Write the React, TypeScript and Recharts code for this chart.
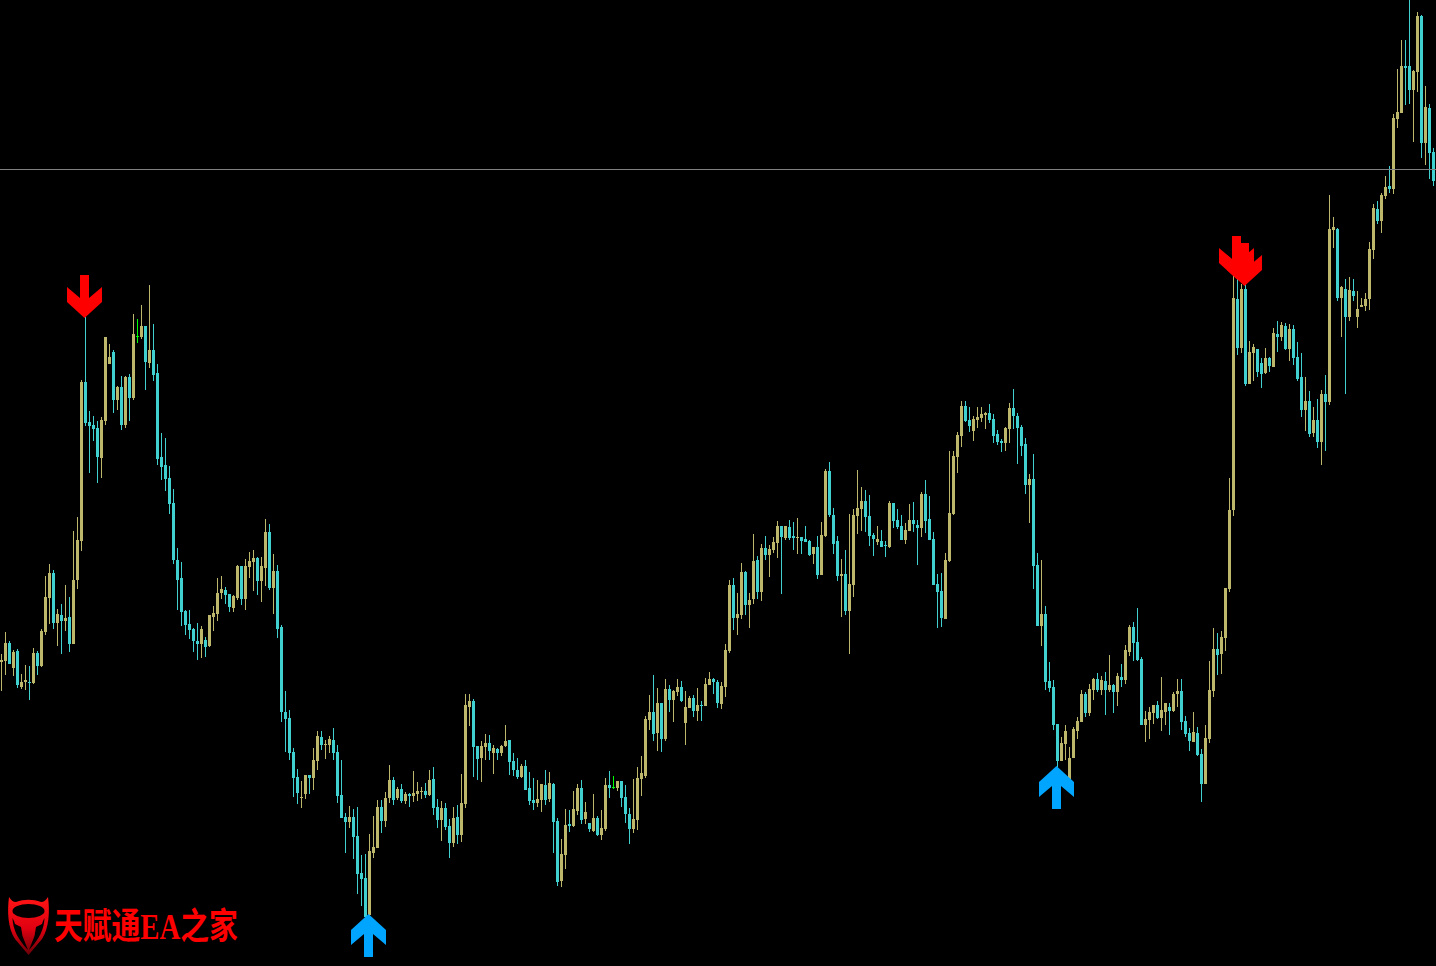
import { Bar, ComposedChart, ReferenceDot, ReferenceLine, XAxis, YAxis } from 'recharts'

const highs = [
  312,334,325,316,317,292,301,300,318,315,
  337,390,402,396,357,362,381,369,435,449,
  586,649,555,550,545,549,629,622,616,580,
  590,590,592,652,647,661,640,681,642,602,
  533,528,500,477,418,404,356,356,338,343,
  340,329,351,360,388,390,379,372,371,401,
  400,407,414,416,409,409,447,442,412,401,
  341,275,256,218,197,185,191,191,218,235,
  235,226,230,238,221,206,153,160,157,159,
  111,112,132,150,166,166,174,201,189,179,
  182,174,173,195,184,179,183,196,199,167,
  165,163,147,159,161,192,272,272,267,220,
  225,232,231,221,218,221,241,226,213,208,
  202,206,194,188,186,182,196,194,183,148,
  127,157,156,175,182,186,164,143,172,150,
  156,188,195,190,185,185,181,158,187,199,
  210,250,271,291,278,263,287,281,276,287,
  285,275,270,271,278,265,288,294,288,286,
  284,322,386,388,373,403,395,373,432,410,
  422,430,421,429,445,440,440,446,444,448,
  429,440,426,419,430,444,497,504,458,430,
  407,416,452,457,496,479,476,471,433,440,
  436,425,465,463,457,451,443,462,464,446,
  474,486,470,434,392,393,413,515,515,534,
  565,565,559,550,559,559,554,562,552,536,
  527,539,563,577,553,541,528,492,512,413,
  406,360,304,286,242,229,241,219,239,249,
  276,274,282,288,293,290,294,311,282,293,
  302,321,341,344,358,309,255,259,261,265,
  289,263,263,274,287,287,250,238,254,239,
  217,241,305,338,333,335,378,488,690,688,
  682,684,625,622,617,608,618,609,638,645,
  644,643,642,641,624,613,589,575,559,567,
  576,591,771,749,738,680,687,689,687,675,
  668,673,724,762,765,773,790,800,852,897,
  926,926,966,896,954,951,880,862,818,
]

const lows = [
  275,291,302,290,278,277,276,266,282,291,
  299,331,342,337,320,312,335,314,322,377,
  415,540,493,525,483,488,541,602,553,556,
  536,538,545,566,623,627,576,598,585,501,
  486,475,452,402,356,340,331,327,314,306,
  308,309,319,335,345,367,362,354,354,366,
  361,356,388,375,371,364,380,376,352,328,
  244,214,206,169,162,158,167,172,176,196,
  216,207,213,206,163,148,113,138,107,72,
  60,46,50,108,118,133,139,163,161,166,
  163,162,159,164,165,167,168,170,151,138,
  125,136,108,119,122,124,158,240,189,186,
  184,206,206,192,206,210,219,191,190,187,
  188,176,161,156,159,154,161,164,113,80,
  79,97,134,139,151,142,142,134,134,130,
  126,135,168,177,175,159,143,122,133,136,
  170,188,236,225,215,214,225,254,244,270,
  264,221,258,249,245,245,260,281,272,258,
  257,269,313,336,331,347,351,338,362,367,
  365,406,389,413,408,372,426,426,416,412,
  412,424,410,402,387,391,429,449,412,385,
  349,351,312,369,432,435,434,420,410,421,
  419,409,418,438,437,426,422,435,434,401,
  429,433,426,381,338,339,347,404,451,493,
  519,544,534,525,538,544,537,543,523,521,
  514,515,523,537,502,510,472,443,377,340,
  320,276,274,236,199,205,206,186,208,227,
  244,249,250,266,274,271,251,274,253,260,
  279,282,310,305,305,241,224,227,242,247,
  235,241,231,254,259,236,229,215,224,210,
  164,182,223,269,291,292,315,374,450,611,
  613,580,582,585,589,578,592,594,599,614,
  625,616,605,601,585,549,535,529,529,518,
  501,515,561,718,665,629,572,645,665,638,
  659,655,656,707,742,733,767,773,772,838,
  853,861,862,824,874,808,801,787,780,
]

const opens = [
  304,305,323,298,315,279,284,284,283,313,
  300,334,368,393,343,351,345,349,322,386,
  425,584,544,541,538,508,545,602,614,566,
  579,541,589,568,630,629,640,603,616,593,
  509,501,488,463,406,388,355,342,337,325,
  322,326,320,349,352,373,376,372,358,368,
  400,367,399,404,408,385,398,434,378,395,
  339,254,248,214,189,168,172,191,188,205,
  229,221,221,226,214,171,149,144,149,130,
  93,88,51,113,118,159,145,168,186,168,
  177,165,172,170,172,174,175,171,187,159,
  146,158,140,123,149,131,162,259,265,220,
  208,219,223,213,217,213,220,226,205,196,
  189,200,178,166,163,166,181,167,182,145,
  85,111,142,140,155,178,147,143,135,148,
  131,137,181,179,178,185,169,152,137,146,
  187,190,246,254,233,263,227,277,266,274,
  279,243,258,268,255,261,260,281,287,284,
  262,279,315,381,348,351,394,361,367,406,
  374,418,411,416,423,440,428,439,430,428,
  429,427,425,412,419,391,430,495,451,425,
  390,392,355,381,450,457,465,450,431,424,
  425,421,419,463,446,440,426,435,446,441,
  438,472,447,427,382,375,347,405,452,509,
  530,560,546,535,546,548,551,553,547,532,
  525,523,537,558,550,539,522,481,487,401,
  340,352,285,279,242,205,222,186,208,235,
  244,272,253,276,287,276,285,276,281,274,
  289,286,314,339,324,307,241,246,253,261,
  248,254,259,255,272,275,245,233,224,233,
  212,182,227,275,317,312,328,377,456,667,
  618,677,582,613,617,603,593,608,599,632,
  629,640,617,637,609,589,556,565,533,546,
  524,572,564,736,737,668,677,649,675,649,
  659,660,667,716,757,745,770,780,777,847,
  853,900,900,876,894,950,823,858,814,
]

const closes = [
  306,323,302,314,281,284,286,283,313,300,
  335,369,393,343,352,345,348,322,386,426,
  584,543,540,537,509,546,629,609,566,579,
  541,589,568,632,630,640,604,616,591,507,
  499,487,462,406,386,354,341,336,325,322,
  337,319,351,353,373,377,371,359,370,400,
  367,400,405,408,385,400,434,378,395,337,
  254,247,213,188,173,169,191,188,206,230,
  221,222,227,213,170,148,144,149,129,92,
  87,49,115,119,159,145,168,186,166,177,
  165,172,170,173,175,175,171,186,158,146,
  158,139,123,148,131,163,261,265,219,207,
  220,223,215,218,213,220,225,204,196,189,
  200,176,165,163,167,182,166,183,144,84,
  112,141,140,157,178,146,154,137,148,131,
  138,181,178,179,185,168,152,137,147,188,
  193,247,254,232,263,227,277,266,275,279,
  265,259,268,255,261,260,282,287,284,263,
  280,316,381,348,352,394,361,366,405,374,
  418,411,417,424,440,429,440,428,428,429,
  425,424,411,419,391,431,495,451,422,390,
  392,355,382,451,458,465,449,430,427,427,
  419,420,463,445,439,426,436,446,442,438,
  472,445,426,381,374,348,406,453,510,531,
  560,545,540,547,549,552,553,546,530,524,
  523,538,558,550,538,520,481,487,400,340,
  352,284,278,241,205,223,235,208,237,245,
  272,253,277,287,276,286,276,281,274,290,
  286,316,339,323,306,241,247,254,261,248,
  256,263,255,272,275,244,232,225,234,211,
  182,228,276,317,311,329,378,456,668,618,
  677,582,614,619,594,592,608,600,633,629,
  641,617,637,608,587,556,565,532,546,524,
  572,564,737,739,668,679,649,676,670,657,
  661,667,717,758,745,771,779,777,848,854,
  900,898,876,895,950,823,859,813,785,
]

// signal arrows: bar index and the price at the arrow's tip
const sellBars = [21, 309, 311]
const sellPrices = [648, 687, 680]
const buyBars = [92, 264]
const buyPrices = [52, 200]

const levelPrice = 796.5
const PRICE_DOMAIN: [number, number] = [0, 966]

const UP = '#BDB76B'
const DOWN = '#40D0D0'
const DOJI = '#00FF00'
const SELL = '#FF0000'
const BUY = '#00A5FF'

const candles = highs.map((high, i) => ({
  bar: i,
  high,
  low: lows[i],
  open: opens[i],
  close: closes[i],
}))

function Candle(props: any) {
  const { x, y, height, payload } = props
  const { high, low, open, close } = payload
  const color = close > open ? UP : close < open ? DOWN : DOJI
  const perUnit = high > low ? height / (high - low) : 0
  const left = Math.round(x)
  const bodyTop = Math.round(y + (high - Math.max(open, close)) * perUnit)
  const bodyH = Math.max(1, Math.round(Math.abs(open - close) * perUnit))
  return (
    <g shapeRendering="crispEdges">
      <rect x={left + 1} y={y} width={1} height={height} fill={color} />
      <rect x={left} y={bodyTop} width={3} height={bodyH} fill={color} />
    </g>
  )
}

const arrowPoints = (cx: number, cy: number, dir: number) =>
  [
    [-4.5, 43],
    [4.5, 43],
    [4.5, 20],
    [17.5, 31],
    [17.5, 16],
    [0, 0],
    [-17.5, 16],
    [-17.5, 31],
    [-4.5, 20],
  ]
    .map(([dx, dy]) => `${cx - 1.5 + dx},${cy + dir * dy}`)
    .join(' ')

const SellArrow = (props: any) => <polygon points={arrowPoints(props.cx, props.cy, -1)} fill={SELL} />
const BuyArrow = (props: any) => <polygon points={arrowPoints(props.cx, props.cy, 1)} fill={BUY} />

function Watermark() {
  return (
    <svg width={250} height={70} viewBox="0 890 250 70" style={{ position: 'absolute', left: 0, top: 890 }}>
      <defs>
        <linearGradient id="shield" x1="0" y1="0" x2="0" y2="1">
          <stop offset="0%" stopColor="#ff1515" />
          <stop offset="55%" stopColor="#e00010" />
          <stop offset="100%" stopColor="#6a0008" />
        </linearGradient>
      </defs>
      <path
        d="M9 897 C7 912 8 928 15 939 L28.5 955 L42 939 C49 928 50 912 48 897 C46 900 44 902 41 902 C33 899 24 899 16 902 C13 902 11 900 9 897 Z"
        fill="url(#shield)"
      />
      <ellipse cx={28.5} cy={911} rx={16} ry={7} fill="#000" />
      <path d="M12.5 918 C13 929 17 938 28 950 L22.5 936 L21 927 L15 924 L14 921 Z" fill="#000" />
      <path d="M44.5 918 C44 929 40 938 29 950 L34.5 936 L36 927 L42 924 L43 921 Z" fill="#000" />
      <text
        transform="translate(54,939) scale(0.8,1)"
        fill="#FF0000"
        fontSize={36}
        fontWeight="bold"
        fontFamily="'Liberation Serif', 'Noto Sans CJK SC', serif"
      >
        天赋通EA之家
      </text>
    </svg>
  )
}

export default function App() {
  return (
    <div style={{ position: 'absolute', left: 0, top: 0, width: 1436, height: 966, background: '#000', overflow: 'hidden' }}>
      <ComposedChart
        width={1436}
        height={966}
        data={candles}
        margin={{ top: 0, right: 0, bottom: 0, left: 0 }}
        barCategoryGap={0}
        barGap={0}
      >
        <XAxis dataKey="bar" hide />
        <YAxis hide domain={PRICE_DOMAIN} />
        <ReferenceLine y={levelPrice} stroke="#808080" strokeWidth={1} />
        <Bar dataKey={(d: any) => [d.low, d.high]} shape={Candle} isAnimationActive={false} />
        {sellBars.map((bar, i) => (
          <ReferenceDot key={`sell-${bar}`} x={bar} y={sellPrices[i]} shape={SellArrow} />
        ))}
        {buyBars.map((bar, i) => (
          <ReferenceDot key={`buy-${bar}`} x={bar} y={buyPrices[i]} shape={BuyArrow} />
        ))}
      </ComposedChart>
      <Watermark />
    </div>
  )
}
